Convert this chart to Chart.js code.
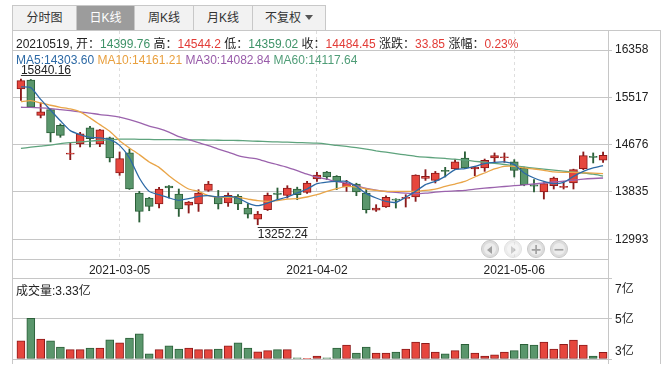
<!DOCTYPE html>
<html>
<head>
<meta charset="utf-8">
<script src="https://cdn.jsdelivr.net/npm/chart.js@4.4.1/dist/chart.umd.min.js"></script>
<style>
body { margin: 0; width: 670px; height: 371px; overflow: hidden; position: relative; background: #fff;
  font-family: "Liberation Sans", "Noto Sans CJK SC", sans-serif; font-size: 12px; color: #222; }
.abs { position: absolute; }
#tabs { left: 12px; top: 5px; display: flex; }
.tab { box-sizing: border-box; height: 26px; line-height: 24px; border: 1px solid #c8c8c8; border-right: none;
  background: #f2f2f2; text-align: center; color: #333; }
.tab.on { background: #9c9c9c; color: #fff; }
.tab.last { border-right: 1px solid #c8c8c8; }
.caret { display: inline-block; width: 0; height: 0; margin-left: 4px; vertical-align: 2px;
  border-left: 4px solid transparent; border-right: 4px solid transparent; border-top: 5px solid #555; }
#frame { left: 12px; top: 30px; width: 649px; height: 334px; box-sizing: border-box;
  border: 1px solid #c8c8c8; border-bottom: none; }
#divider { left: 608px; top: 30px; width: 1px; height: 334px; background: #c8c8c8; }
#info { left: 16px; top: 34px; white-space: pre; }
#maRow { left: 16px; top: 53px; white-space: pre; }
#volTitle { left: 16px; top: 281px; white-space: pre; }
.red { color: #e23b36; } .green { color: #3f9368; }
canvas { position: absolute; left: 0; }
.nb { position: absolute; top: 240px; width: 18px; height: 18px; border-radius: 50%; box-sizing: border-box;
  background: #ececec; border: 1px solid #c6c6c6; box-shadow: inset 0 0 0 2px #dcdcdc;
  text-align: center; color: #a0a0a0; font: bold 14px/16px "DejaVu Sans", sans-serif; }
.nb.dim { opacity: 0.55; }
.tri { display: inline-block; width: 0; height: 0; margin-top: 5px;
  border-top: 4px solid transparent; border-bottom: 4px solid transparent; }
.tri.l { border-right: 5px solid #a0a0a0; margin-left: -1px; }
.tri.r { border-left: 5px solid #a0a0a0; margin-left: 1px; }
</style>
</head>
<body>
<div id="frame" class="abs"></div>
<div id="divider" class="abs"></div>
<canvas id="kChart" width="670" height="280" style="top:0"></canvas>
<canvas id="volChart" width="670" height="101" style="top:270px"></canvas>

<div id="tabs" class="abs">
  <div class="tab" style="width:64px">分时图</div>
  <div class="tab on" style="width:58px">日K线</div>
  <div class="tab" style="width:59px">周K线</div>
  <div class="tab" style="width:59px">月K线</div>
  <div class="tab last" style="width:74px">不复权<span class="caret"></span></div>
</div>
<div id="info" class="abs"></div>
<div id="maRow" class="abs"></div>
<div id="volTitle" class="abs"></div>

<div class="nb" style="left:481px"><span class="tri l"></span></div>
<div class="nb dim" style="left:504px"><span class="tri r"></span></div>
<div class="nb" style="left:527px">+</div>
<div class="nb" style="left:550px">−</div>

<script>
// trading days shown on the chart
const dates = [
  '2021-02-19',
  '2021-02-22', '2021-02-23', '2021-02-24', '2021-02-25', '2021-02-26',
  '2021-03-01', '2021-03-02', '2021-03-03', '2021-03-04', '2021-03-05',
  '2021-03-08', '2021-03-09', '2021-03-10', '2021-03-11', '2021-03-12',
  '2021-03-15', '2021-03-16', '2021-03-17', '2021-03-18', '2021-03-19',
  '2021-03-22', '2021-03-23', '2021-03-24', '2021-03-25', '2021-03-26',
  '2021-03-29', '2021-03-30', '2021-03-31', '2021-04-01', '2021-04-02',
  '2021-04-06', '2021-04-07', '2021-04-08', '2021-04-09',
  '2021-04-12', '2021-04-13', '2021-04-14', '2021-04-15', '2021-04-16',
  '2021-04-19', '2021-04-20', '2021-04-21', '2021-04-22', '2021-04-23',
  '2021-04-26', '2021-04-27', '2021-04-28', '2021-04-29', '2021-04-30',
  '2021-05-06', '2021-05-07',
  '2021-05-10', '2021-05-11', '2021-05-12', '2021-05-13', '2021-05-14',
  '2021-05-17', '2021-05-18', '2021-05-19'
];

// daily open / high / low / close
const openP = [15667, 15825, 15197, 15299, 15019, 14505, 14688, 14973, 14688, 14795,
  14172, 14528, 13816, 13727, 13620, 13941, 13799, 13602, 13620, 13862,
  13745, 13638, 13756, 13549, 13353, 13519, 13816, 13774, 13887, 13827,
  14065, 14190, 14112, 13923, 13976, 13816, 13513, 13567, 13709, 13720,
  13745, 14076, 14041, 14218, 14243, 14439, 14243, 14261, 14439, 14443,
  14368, 14261, 13960, 13834, 13946, 13915, 13994, 14249, 14470, 14399.76];
const highP = [15840.16, 15835, 15418, 15310, 15044, 14717, 14895, 15002, 14945, 14810,
  14546, 14599, 13845, 13738, 13916, 13950, 13887, 13665, 13875, 14023,
  13862, 13816, 13786, 13625, 13489, 13816, 13905, 13946, 13920, 14023,
  14183, 14200, 14125, 14041, 13990, 13887, 13608, 13768, 13715, 13786,
  14140, 14231, 14200, 14272, 14410, 14546, 14290, 14420, 14528, 14528,
  14409, 14275, 14053, 14000, 14100, 14023, 14240, 14546, 14528, 14544.2];
const lowP = [15460, 15335, 15151, 14724, 14806, 14409, 14635, 14635, 14640, 14368,
  14130, 13880, 13300, 13501, 13549, 13730, 13400, 13460, 13489, 13845,
  13532, 13578, 13519, 13371, 13252.24, 13505, 13697, 13727, 13697, 13810,
  14023, 14053, 13875, 13845, 13768, 13460, 13489, 13560, 13549, 13567,
  13667, 14040, 13994, 14101, 14230, 14255, 14124, 14201, 14360, 14361,
  14101, 13945, 13834, 13709, 13887, 13887, 13887, 14231, 14350, 14359.02];
const closeP = [15815, 15340, 15258, 14884, 14841, 14525, 14866, 14783, 14938, 14439,
  14427, 13887, 13489, 13578, 13887, 13905, 13532, 13656, 13816, 13976,
  13620, 13774, 13620, 13442, 13442, 13774, 13790, 13905, 13786, 13994,
  14136, 14101, 14023, 13994, 13834, 13519, 13549, 13738, 13688, 13740,
  14136, 14112, 14172, 14198, 14368, 14261, 14279, 14396, 14480, 14460,
  14219, 13964, 13938, 13982, 14083, 13935, 14231, 14480, 14450.6, 14484.45];

// moving averages as drawn
const ma5 = [15703, 15690, 15480, 15290, 15100, 14925, 14854, 14806, 14795, 14765,
  14663, 14439, 14083, 13845, 13786, 13730, 13685, 13715, 13756, 13768,
  13745, 13756, 13727, 13638, 13590, 13638, 13697, 13745, 13816, 13887,
  13982, 14011, 14023, 14023, 13934, 13804, 13727, 13667, 13650, 13740,
  13845, 13964, 14023, 14112, 14231, 14249, 14290, 14338, 14361, 14368,
  14320, 14172, 14083, 14023, 13982, 14005, 14112, 14201, 14261, 14303.60];
const ma10 = [15440, 15459, 15418, 15376, 15340, 15311, 15258, 15151, 15032, 14913,
  14747, 14617, 14498, 14368, 14272, 14124, 13994, 13887, 13845, 13768,
  13738, 13738, 13738, 13709, 13679, 13667, 13679, 13709, 13715, 13745,
  13786, 13845, 13893, 13934, 13923, 13887, 13862, 13845, 13845, 13845,
  13845, 13862, 13887, 13934, 13976, 14023, 14101, 14172, 14243, 14290,
  14290, 14261, 14243, 14219, 14190, 14183, 14183, 14175, 14170, 14161.21];
const ma30 = [15340, 15338, 15329, 15317, 15299, 15281, 15258, 15237, 15210, 15192,
  15165, 15121, 15068, 15005, 14961, 14898, 14818, 14765, 14711, 14658,
  14596, 14542, 14480, 14444, 14418, 14364, 14320, 14272, 14213, 14151,
  14097, 14062, 14017, 13991, 13946, 13898, 13866, 13843, 13827, 13813,
  13804, 13813, 13830, 13845, 13854, 13861, 13884, 13902, 13916, 13932,
  13946, 13960, 13976, 13994, 14012, 14026, 14044, 14062, 14074, 14082.84];
const ma60 = [14608, 14631, 14649, 14667, 14694, 14711, 14724, 14738, 14751, 14761,
  14774, 14774, 14770, 14768, 14765, 14765, 14763, 14761, 14760, 14756,
  14754, 14752, 14749, 14743, 14736, 14729, 14724, 14719, 14713, 14708,
  14701, 14685, 14662, 14644, 14622, 14596, 14566, 14541, 14516, 14493,
  14469, 14453, 14441, 14430, 14418, 14400, 14380, 14363, 14343, 14323,
  14302, 14279, 14258, 14240, 14222, 14204, 14188, 14172, 14151, 14117.64];

// turnover in 亿
const volume = [3.90, 5.01, 3.98, 3.90, 3.59, 3.46, 3.46, 3.54, 3.54, 3.95,
  3.80, 4.03, 4.24, 3.26, 3.46, 3.65, 3.49, 3.54, 3.46, 3.46,
  3.49, 3.65, 3.80, 3.54, 3.36, 3.41, 3.46, 3.46, 3.06, 3.02,
  3.15, 3.06, 3.54, 3.69, 3.29, 3.59, 3.29, 3.29, 3.34, 3.49,
  3.83, 3.78, 3.34, 3.26, 3.41, 3.73, 3.29, 3.15, 3.20, 3.34,
  3.41, 3.73, 3.69, 3.83, 3.49, 3.73, 3.93, 3.69, 3.15, 3.33];

const priceTicks = [16358, 15517, 14676, 13835, 12993];
const volTicks = [3, 5, 7];
const shownDates = ['2021-03-05', '2021-04-02', '2021-05-06'];

const FONT = '"Liberation Sans", "Noto Sans CJK SC", sans-serif';
const GRID = '#c6c6c6';
const RED = '#e6463d', RED_EDGE = '#8c1a1a';
const GREEN = '#5a966c', GREEN_EDGE = '#2b5f38';

Chart.defaults.font.family = FONT;
Chart.defaults.font.size = 12;
Chart.defaults.color = '#222';

const up = closeP.map((c, i) => c >= openP[i]);
const fill = up.map(u => u ? RED : GREEN);
const edge = up.map(u => u ? RED_EDGE : GREEN_EDGE);

// header texts
const last = dates.length - 1;
const chg = closeP[last] - closeP[last - 1];
document.getElementById('info').innerHTML =
  dates[last].replace(/-/g, '') + ', 开：<span class="green">' + openP[last].toFixed(2) + '</span>' +
  ' 高：<span class="red">' + highP[last] + '</span>' +
  ' 低：<span class="green">' + lowP[last].toFixed(2) + '</span>' +
  ' 收：<span class="red">' + closeP[last].toFixed(2) + '</span>' +
  ' 涨跌：<span class="red">' + chg.toFixed(2) + '</span>' +
  ' 涨幅：<span class="red">' + (chg / closeP[last - 1] * 100).toFixed(2) + '%</span>';
document.getElementById('maRow').innerHTML =
  '<span style="color:#2c69a5">MA5:' + ma5[last].toFixed(2) + '</span> ' +
  '<span style="color:#e9a03f">MA10:' + ma10[last].toFixed(2) + '</span> ' +
  '<span style="color:#985ba9">MA30:' + ma30[last].toFixed(2) + '</span> ' +
  '<span style="color:#4f9d77">MA60:' + ma60[last].toFixed(2) + '</span>';
document.getElementById('volTitle').textContent = '成交量:' + volume[last].toFixed(2) + '亿';

function align(p) { return Math.round(p - 0.5) + 0.5; }

// grid lines run on to the left frame, dashed date lines up to the frame top
const frameLines = {
  id: 'frameLines',
  beforeDatasetsDraw(chart) {
    const { ctx, chartArea, scales } = chart;
    const y = scales.y;
    ctx.save();
    ctx.strokeStyle = GRID;
    ctx.lineWidth = 1;
    const ys = y.ticks.map(t => y.getPixelForValue(t.value));
    ys.push(chartArea.bottom);
    ys.forEach(py => {
      ctx.beginPath();
      ctx.moveTo(12, align(py));
      ctx.lineTo(chartArea.left, align(py));
      ctx.stroke();
    });
    if (scales.x.options.display && chart.canvas.id === 'kChart') {
      ctx.strokeStyle = '#dedede';
      ctx.setLineDash([3, 3]);
      scales.x.ticks.forEach(t => {
        const px = align(scales.x.getPixelForValue(t.value));
        ctx.beginPath();
        ctx.moveTo(px, 31);
        ctx.lineTo(px, chartArea.top);
        ctx.stroke();
      });
    }
    ctx.restore();
  }
};

// max / min price markers
const extremes = {
  id: 'extremes',
  afterDatasetsDraw(chart) {
    const { ctx, scales: { x, y } } = chart;
    const hi = highP.indexOf(Math.max(...highP));
    const lo = lowP.indexOf(Math.min(...lowP));
    ctx.save();
    ctx.font = '12px ' + FONT;
    ctx.fillStyle = '#222';
    ctx.strokeStyle = '#333';
    ctx.lineWidth = 1;

    let px = x.getPixelForValue(hi), py = y.getPixelForValue(highP[hi]);
    let txt = highP[hi].toFixed(2), w = ctx.measureText(txt).width;
    ctx.textBaseline = 'alphabetic';
    ctx.fillText(txt, px, py - 5.5);
    ctx.beginPath();
    ctx.moveTo(px, align(py - 4));
    ctx.lineTo(px + w, align(py - 4));
    ctx.stroke();

    px = x.getPixelForValue(lo); py = y.getPixelForValue(lowP[lo]);
    txt = lowP[lo].toFixed(2); w = ctx.measureText(txt).width;
    ctx.beginPath();
    ctx.moveTo(px, align(py + 2.5));
    ctx.lineTo(px + w, align(py + 2.5));
    ctx.stroke();
    ctx.textBaseline = 'top';
    ctx.fillText(txt, px, py + 3.5);
    ctx.restore();
  }
};

// volume axis labels kept inside the panel
const volLabels = {
  id: 'volLabels',
  afterDraw(chart) {
    const { ctx, chartArea, scales: { y } } = chart;
    ctx.save();
    ctx.font = '12px ' + FONT;
    ctx.fillStyle = '#222';
    ctx.textBaseline = 'middle';
    volTicks.forEach(v => {
      let py = y.getPixelForValue(v);
      py = Math.min(Math.max(py, chartArea.top + 11), chartArea.bottom - 8) + 1;
      ctx.fillText(v + '亿', chartArea.right + 7, py);
    });
    ctx.restore();
  }
};

const maLine = (data, color) => ({
  type: 'line', data: data, borderColor: color, borderWidth: 1.3,
  pointRadius: 0, tension: 0.2, order: 0
});

new Chart(document.getElementById('kChart'), {
  type: 'bar',
  data: {
    labels: dates,
    datasets: [
      maLine(ma5, '#2c69a5'),
      maLine(ma10, '#e9a548'),
      maLine(ma30, '#9b63ad'),
      maLine(ma60, '#5ea37d'),
      {
        data: openP.map((o, i) => [o, closeP[i]]),
        backgroundColor: fill, borderColor: edge, borderWidth: 1,
        borderSkipped: false, barThickness: 8, grouped: false, order: 2
      },
      {
        data: lowP.map((l, i) => [l, highP[i]]),
        backgroundColor: edge, borderWidth: 0,
        barThickness: 1.2, grouped: false, order: 3
      }
    ]
  },
  options: {
    responsive: false,
    animation: false,
    layout: { padding: { left: 16, right: 10, top: 50, bottom: 0 } },
    plugins: { legend: { display: false }, tooltip: { enabled: false } },
    scales: {
      x: {
        offset: true,
        grid: { offset: false, color: '#dedede', drawTicks: false },
        border: { color: GRID, dash: [3, 3] },
        ticks: { autoSkip: false, maxRotation: 0, padding: 4, color: '#222' },
        afterBuildTicks: s => { s.ticks = s.ticks.filter(t => shownDates.includes(dates[t.value])); },
        afterFit: s => { s.height = 21; }
      },
      y: {
        position: 'right',
        min: 12643,
        max: 16358,
        afterBuildTicks: s => { s.ticks = priceTicks.map(v => ({ value: v })); },
        ticks: { padding: 3, color: '#222', callback: v => Math.round(v) },
        grid: { color: GRID, tickLength: 4 },
        border: { color: GRID },
        afterFit: s => { s.width = 52; }
      }
    }
  },
  plugins: [frameLines, extremes]
});

new Chart(document.getElementById('volChart'), {
  type: 'bar',
  data: {
    labels: dates,
    datasets: [{
      data: volume,
      base: volTicks[0],
      backgroundColor: fill, borderColor: edge, borderWidth: 1,
      borderSkipped: false, barThickness: 8
    }]
  },
  options: {
    responsive: false,
    animation: false,
    layout: { padding: { left: 16, right: 10, top: 8, bottom: 12 } },
    plugins: { legend: { display: false }, tooltip: { enabled: false } },
    scales: {
      x: { display: false, offset: true },
      y: {
        position: 'right',
        min: volTicks[0],
        max: volTicks[volTicks.length - 1],
        afterBuildTicks: s => { s.ticks = volTicks.map(v => ({ value: v })); },
        ticks: { display: false },
        grid: { color: GRID, tickLength: 4 },
        border: { color: GRID },
        afterFit: s => { s.width = 52; }
      }
    }
  },
  plugins: [frameLines, volLabels]
});
</script>
</body>
</html>
